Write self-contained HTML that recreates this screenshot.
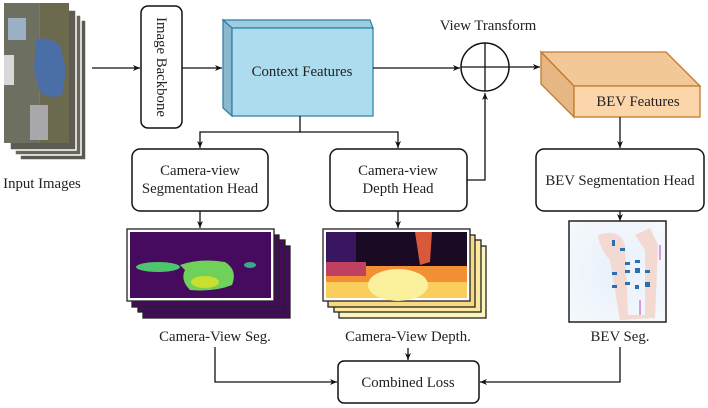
<!DOCTYPE html>
<html><head><meta charset="utf-8"><style>
html,body{margin:0;padding:0;background:#fff;}
svg{display:block;}
text{font-family:"Liberation Serif",serif;font-size:14.8px;fill:#222;}
</style></head><body>
<svg width="708" height="408" viewBox="0 0 708 408" xmlns="http://www.w3.org/2000/svg">
<defs>
<marker id="a" markerWidth="8" markerHeight="8" refX="7" refY="4" orient="auto" markerUnits="userSpaceOnUse">
<path d="M0,1 L7,4 L0,7 L2,4 Z" fill="#111"/></marker>
<radialGradient id="bev" cx="0.5" cy="0.5" r="0.7"><stop offset="0" stop-color="#e8f0fa"/><stop offset="1" stop-color="#f6f9fd"/></radialGradient>
</defs>

<!-- input images stack -->
<g stroke="#fff" stroke-width="1.5">
<rect x="20" y="20" width="66" height="140" fill="#5c5a50"/>
<rect x="15" y="15" width="66" height="140" fill="#6a665c"/>
<rect x="10" y="10" width="66" height="140" fill="#5e5c52"/>
</g>
<rect x="4" y="3" width="65" height="140" fill="#7a7866"/>
<rect x="4" y="3" width="35" height="140" fill="#6d7060"/>
<rect x="8" y="18" width="18" height="22" fill="#9bb0c4"/>
<rect x="4" y="55" width="10" height="30" fill="#d8d8d8"/>
<rect x="40" y="3" width="29" height="140" fill="#6c6a4e"/>
<path d="M36,40 Q45,35 60,45 L66,70 L62,95 Q50,100 40,92 L34,70 Z" fill="#4a6ea8"/>
<rect x="30" y="105" width="18" height="35" fill="#a8a8ac"/>
<text x="42" y="188" text-anchor="middle">Input Images</text>

<line x1="92" y1="68" x2="140" y2="68" stroke="#111" stroke-width="1.3" marker-end="url(#a)"/>
<rect x="141" y="6" width="41" height="122" rx="7" fill="#fff" stroke="#111" stroke-width="1.5"/>
<text transform="translate(157,67) rotate(90)" text-anchor="middle">Image Backbone</text>
<line x1="182" y1="68" x2="222" y2="68" stroke="#111" stroke-width="1.3" marker-end="url(#a)"/>

<!-- Context features -->
<polygon points="223,20 370,20 373,28 232,28" fill="#9fcde0" stroke="#2a7ca8" stroke-width="1.2"/>
<polygon points="223,20 232,28 232,116 223,108" fill="#8ab8cc" stroke="#2a7ca8" stroke-width="1.2"/>
<rect x="232" y="28" width="141" height="88" fill="#addcef" stroke="#2a7ca8" stroke-width="1.2"/>
<text x="302" y="76" text-anchor="middle">Context Features</text>

<line x1="373" y1="68" x2="460" y2="68" stroke="#111" stroke-width="1.3" marker-end="url(#a)"/>
<circle cx="485" cy="67" r="24" fill="#fff" stroke="#111" stroke-width="1.5"/>
<line x1="461" y1="67" x2="509" y2="67" stroke="#111" stroke-width="1.3"/>
<line x1="485" y1="43" x2="485" y2="91" stroke="#111" stroke-width="1.3"/>
<text x="488" y="30" text-anchor="middle">View Transform</text>
<line x1="509" y1="67" x2="540" y2="67" stroke="#111" stroke-width="1.3" marker-end="url(#a)"/>

<!-- BEV features -->
<polygon points="541,52 666,52 700,86 574,86" fill="#f2c898" stroke="#c47a2e" stroke-width="1.3"/>
<polygon points="541,52 574,86 574,117 541,84" fill="#e6b784" stroke="#c47a2e" stroke-width="1.3"/>
<rect x="574" y="86" width="126" height="31" fill="#fcd6aa" stroke="#c47a2e" stroke-width="1.3"/>
<text x="638" y="106" text-anchor="middle">BEV Features</text>
<line x1="620" y1="117" x2="620" y2="148" stroke="#111" stroke-width="1.3" marker-end="url(#a)"/>

<!-- context split -->
<polyline points="300,116 300,132 200,132 200,148" fill="none" stroke="#111" stroke-width="1.3" marker-end="url(#a)"/>
<polyline points="300,132 398,132 398,148" fill="none" stroke="#111" stroke-width="1.3" marker-end="url(#a)"/>

<rect x="132" y="149" width="136" height="62" rx="8" fill="#fff" stroke="#111" stroke-width="1.5"/>
<text x="200" y="175" text-anchor="middle">Camera-view</text>
<text x="200" y="193" text-anchor="middle">Segmentation Head</text>
<rect x="330" y="149" width="137" height="62" rx="8" fill="#fff" stroke="#111" stroke-width="1.5"/>
<text x="398" y="175" text-anchor="middle">Camera-view</text>
<text x="398" y="193" text-anchor="middle">Depth Head</text>
<polyline points="467,180 485,180 485,93" fill="none" stroke="#111" stroke-width="1.3" marker-end="url(#a)"/>
<rect x="536" y="149" width="168" height="62" rx="8" fill="#fff" stroke="#111" stroke-width="1.5"/>
<text x="620" y="185" text-anchor="middle">BEV Segmentation Head</text>

<line x1="200" y1="211" x2="200" y2="228" stroke="#111" stroke-width="1.3" marker-end="url(#a)"/>
<line x1="398" y1="211" x2="398" y2="228" stroke="#111" stroke-width="1.3" marker-end="url(#a)"/>
<line x1="620" y1="211" x2="620" y2="221" stroke="#111" stroke-width="1.3" marker-end="url(#a)"/>

<!-- seg images -->
<g stroke="#222" stroke-width="1.3">
<rect x="143" y="246" width="147" height="72" fill="#440a5c"/>
<rect x="138" y="240" width="147" height="72" fill="#440a5c"/>
<rect x="132" y="235" width="147" height="72" fill="#440a5c"/>
</g>
<rect x="127" y="229" width="147" height="72" fill="#fff" stroke="#222" stroke-width="1.3"/>
<rect x="130" y="232" width="141" height="66" fill="#460b5e"/>
<ellipse cx="158" cy="267" rx="22" ry="5" fill="#4ec46c"/>
<path d="M180,265 Q200,258 225,262 Q238,270 232,285 Q215,292 190,290 Q180,280 185,270 Z" fill="#6fd05a"/>
<ellipse cx="205" cy="282" rx="14" ry="6" fill="#c8e030"/>
<ellipse cx="250" cy="265" rx="6" ry="3" fill="#3aa88a"/>

<!-- depth images -->
<g stroke="#222" stroke-width="1.3">
<rect x="339" y="246" width="147" height="72" fill="#fdf6b8"/>
<rect x="334" y="240" width="147" height="72" fill="#fce8a0"/>
<rect x="328" y="235" width="147" height="72" fill="#f8d880"/>
</g>
<rect x="323" y="229" width="147" height="72" fill="#fff" stroke="#222" stroke-width="1.3"/>
<rect x="326" y="232" width="141" height="66" fill="#f39034"/>
<rect x="326" y="232" width="141" height="34" fill="#1a0a24"/>
<rect x="326" y="232" width="30" height="36" fill="#3a1560"/>
<path d="M415,232 L432,232 L430,262 L420,265 Z" fill="#d85a3a"/>
<rect x="326" y="262" width="40" height="14" fill="#c04060"/>
<path d="M326,282 L467,282 L467,298 L326,298 Z" fill="#fbce5c"/>
<ellipse cx="398" cy="285" rx="30" ry="16" fill="#fbf09c"/>

<!-- BEV seg image -->
<rect x="569" y="221" width="97" height="101" fill="url(#bev)" stroke="#222" stroke-width="1.5"/>
<path d="M598,235 Q620,228 625,245 L628,315 L645,315 L645,250 L635,235 L650,228 L658,245 L655,318 L620,320 L610,260 Q600,250 598,235 Z" fill="#f3d6cc" opacity="0.9"/>
<g fill="#2a70b0">
<rect x="612" y="240" width="3" height="6"/><rect x="620" y="248" width="5" height="3"/>
<rect x="625" y="262" width="5" height="3"/><rect x="635" y="260" width="5" height="3"/>
<rect x="625" y="270" width="5" height="3"/><rect x="635" y="268" width="5" height="5"/>
<rect x="612" y="272" width="5" height="3"/><rect x="645" y="270" width="5" height="3"/>
<rect x="612" y="285" width="5" height="3"/><rect x="625" y="282" width="5" height="3"/>
<rect x="645" y="282" width="5" height="5"/><rect x="635" y="285" width="4" height="4"/>
</g>
<line x1="660" y1="245" x2="660" y2="260" stroke="#c040c0" stroke-width="1"/>
<line x1="640" y1="300" x2="640" y2="315" stroke="#c040c0" stroke-width="1"/>

<text x="215" y="341" text-anchor="middle">Camera-View Seg.</text>
<text x="408" y="341" text-anchor="middle">Camera-View Depth.</text>
<text x="620" y="341" text-anchor="middle">BEV Seg.</text>

<rect x="338" y="361" width="141" height="42" rx="6" fill="#fff" stroke="#111" stroke-width="1.5"/>
<text x="408" y="387" text-anchor="middle">Combined Loss</text>
<polyline points="215,347 215,382 337,382" fill="none" stroke="#111" stroke-width="1.3" marker-end="url(#a)"/>
<line x1="408" y1="348" x2="408" y2="360" stroke="#111" stroke-width="1.3" marker-end="url(#a)"/>
<polyline points="620,347 620,382 480,382" fill="none" stroke="#111" stroke-width="1.3" marker-end="url(#a)"/>
</svg>
</body></html>
